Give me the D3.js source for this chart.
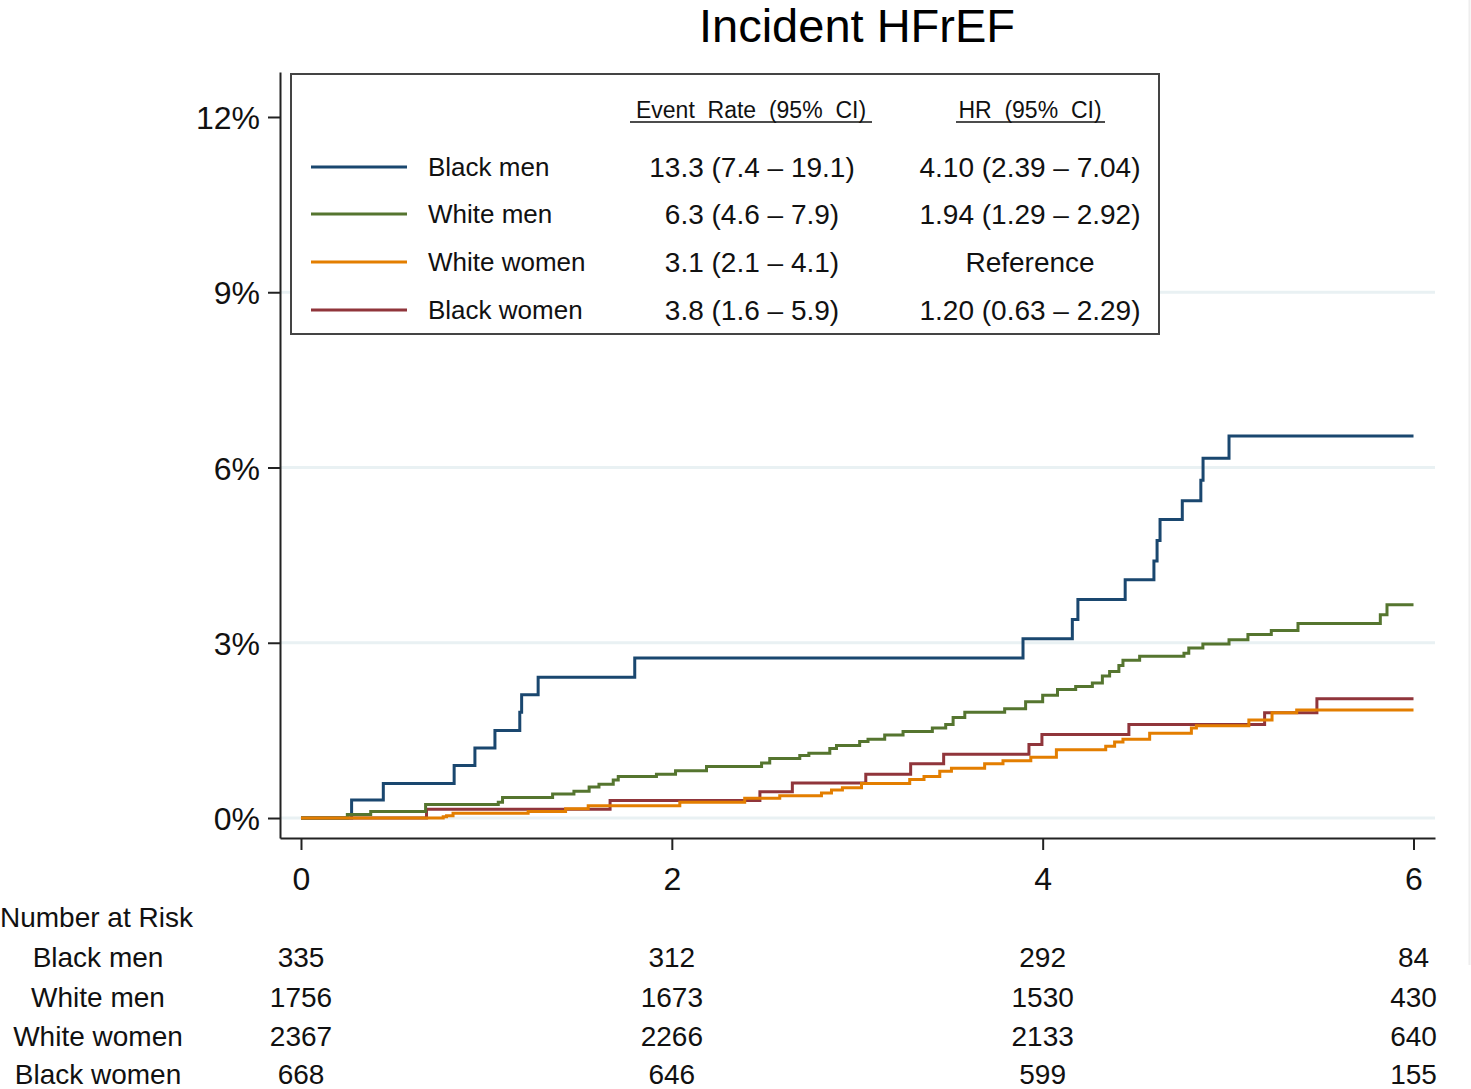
<!DOCTYPE html>
<html>
<head>
<meta charset="utf-8">
<script src="https://cdn.jsdelivr.net/npm/d3@7"></script>
<style>
  html, body { margin: 0; padding: 0; background: #fff; }
  svg { display: block; font-family: "Liberation Sans", Arial, sans-serif; }
</style>
</head>
<body>
<svg id="chart" width="1471" height="1089"></svg>
<script>
// ---------- Data ----------
const seriesNames = ["Black men", "White men", "White women", "Black women"];

const bmTimes = [0, 0.273, 0.444, 0.826, 0.938, 1.046, 1.18, 1.19, 1.279, 1.80, 3.894, 4.16, 4.19, 4.445, 4.60, 4.617, 4.633, 4.753, 4.853, 4.865, 5.005, 6.0];
const bmValues = [0, 0.31, 0.59, 0.90, 1.20, 1.50, 1.81, 2.11, 2.41, 2.74, 3.07, 3.40, 3.74, 4.08, 4.40, 4.75, 5.11, 5.43, 5.78, 6.16, 6.54, 6.54];

const wmTimes = [0, 0.25, 0.376, 0.672, 1.064, 1.087, 1.357, 1.472, 1.554, 1.607, 1.684, 1.711, 1.917, 2.02, 2.187, 2.484, 2.528, 2.69, 2.739, 2.852, 2.888, 3.013, 3.058, 3.148, 3.247, 3.405, 3.477, 3.517, 3.58, 3.795, 3.908, 4.0, 4.08, 4.178, 4.268, 4.322, 4.361, 4.411, 4.433, 4.523, 4.762, 4.788, 4.864, 5.005, 5.107, 5.233, 5.377, 5.821, 5.857, 6];
const wmValues = [0, 0.06, 0.11, 0.23, 0.27, 0.35, 0.41, 0.46, 0.53, 0.58, 0.65, 0.71, 0.75, 0.81, 0.88, 0.94, 1.02, 1.07, 1.11, 1.19, 1.24, 1.31, 1.35, 1.42, 1.48, 1.54, 1.60, 1.72, 1.81, 1.87, 1.99, 2.10, 2.20, 2.25, 2.31, 2.43, 2.51, 2.61, 2.70, 2.77, 2.82, 2.91, 2.98, 3.05, 3.14, 3.21, 3.33, 3.48, 3.65, 3.65];

const wwTimes = [0, 0.767, 0.785, 0.82, 1.225, 1.427, 1.549, 2.043, 2.393, 2.582, 2.807, 2.861, 2.92, 3.023, 3.283, 3.36, 3.445, 3.508, 3.687, 3.786, 3.936, 4.074, 4.34, 4.388, 4.433, 4.577, 4.802, 4.829, 5.112, 5.237, 5.37, 6];
const wwValues = [0, 0.02, 0.04, 0.08, 0.11, 0.16, 0.21, 0.27, 0.34, 0.38, 0.43, 0.48, 0.52, 0.59, 0.66, 0.71, 0.80, 0.85, 0.93, 0.98, 1.04, 1.17, 1.23, 1.30, 1.35, 1.45, 1.54, 1.58, 1.68, 1.80, 1.85, 1.85];

const bwTimes = [0, 0.677, 1.667, 2.475, 2.65, 3.046, 3.288, 3.466, 3.926, 3.996, 4.465, 5.197, 5.479, 6];
const bwValues = [0, 0.15, 0.30, 0.45, 0.60, 0.75, 0.93, 1.09, 1.26, 1.43, 1.60, 1.80, 2.04, 2.04];

const eventRates = ["13.3 (7.4 \u2013 19.1)", "6.3 (4.6 \u2013 7.9)", "3.1 (2.1 \u2013 4.1)", "3.8 (1.6 \u2013 5.9)"];
const hazardRatios = ["4.10 (2.39 \u2013 7.04)", "1.94 (1.29 \u2013 2.92)", "Reference", "1.20 (0.63 \u2013 2.29)"];

const xTicks = [0, 2, 4, 6];
const yTicks = [0, 3, 6, 9, 12];
const yGrid = [0, 3, 6, 9];

const riskBM = [335, 312, 292, 84];
const riskWM = [1756, 1673, 1530, 430];
const riskWW = [2367, 2266, 2133, 640];
const riskBW = [668, 646, 599, 155];

// ---------- Styles ----------
const colors = {"Black men": "#1a476f", "White men": "#55752f", "White women": "#e37e00", "Black women": "#90353b"};

const svg = d3.select("#chart");

const x = d3.scaleLinear().domain([-0.1132, 6.1159]).range([280, 1435]);
const y = d3.scaleLinear().domain([-0.342, 12.77]).range([838, 72]);

// faint right border
svg.append("line").attr("x1", 1469.5).attr("x2", 1469.5).attr("y1", 0).attr("y2", 965)
  .attr("stroke", "#eeeeee").attr("stroke-width", 2);

// gridlines
svg.append("g").selectAll("line").data(yGrid).join("line")
  .attr("x1", 280).attr("x2", 1435)
  .attr("y1", d => y(d)).attr("y2", d => y(d))
  .attr("stroke", "#e9f1f3").attr("stroke-width", 3);

// Title
svg.append("text").attr("x", 857).attr("y", 42).attr("text-anchor", "middle")
  .attr("font-size", 47).attr("fill", "#000").text("Incident HFrEF");

// Axes
const yAxis = d3.axisLeft(y).tickValues(yTicks).tickFormat(d => d + "%").tickSize(12).tickSizeOuter(0).tickPadding(8);
const gy = svg.append("g").attr("transform", "translate(280,0)").call(yAxis);
gy.select(".domain").attr("stroke", "#222").attr("stroke-width", 2);
gy.selectAll(".tick line").attr("stroke", "#222").attr("stroke-width", 2);
gy.selectAll(".tick text").attr("font-size", 32).attr("fill", "#111")
  .attr("font-family", "'Liberation Sans', Arial, sans-serif").attr("dy", "0.36em");

const xAxis = d3.axisBottom(x).tickValues(xTicks).tickFormat(d3.format("d")).tickSize(12).tickSizeOuter(0).tickPadding(17);
const gx = svg.append("g").attr("transform", "translate(0,838)").call(xAxis);
gx.select(".domain").attr("stroke", "#222").attr("stroke-width", 2);
gx.selectAll(".tick line").attr("stroke", "#222").attr("stroke-width", 2);
gx.selectAll(".tick text").attr("font-size", 32).attr("fill", "#111")
  .attr("font-family", "'Liberation Sans', Arial, sans-serif");

// Curves
const line = d3.line().x(d => x(d[0])).y(d => y(d[1])).curve(d3.curveStepAfter);
const series = [
  {name: "Black men", t: bmTimes, v: bmValues},
  {name: "Black women", t: bwTimes, v: bwValues},
  {name: "White men", t: wmTimes, v: wmValues},
  {name: "White women", t: wwTimes, v: wwValues}
];
svg.append("g").selectAll("path").data(series).join("path")
  .attr("d", s => line(s.t.map((t, i) => [t, s.v[i]])))
  .attr("fill", "none")
  .attr("stroke", s => colors[s.name])
  .attr("stroke-width", 3)
  .attr("stroke-linejoin", "miter");

// Legend box
const lg = svg.append("g");
lg.append("rect").attr("x", 291).attr("y", 74).attr("width", 868).attr("height", 260)
  .attr("fill", "#fff").attr("stroke", "#444").attr("stroke-width", 2);

lg.append("text").attr("x", 751).attr("y", 118).attr("text-anchor", "middle")
  .attr("font-size", 23).attr("fill", "#111").style("white-space", "pre")
  .text("Event  Rate  (95%  CI)");
lg.append("line").attr("x1", 630).attr("x2", 872).attr("y1", 122).attr("y2", 122)
  .attr("stroke", "#111").attr("stroke-width", 1.5);
lg.append("text").attr("x", 1030).attr("y", 118).attr("text-anchor", "middle")
  .attr("font-size", 23).attr("fill", "#111").style("white-space", "pre")
  .text("HR  (95%  CI)");
lg.append("line").attr("x1", 956).attr("x2", 1105).attr("y1", 122).attr("y2", 122)
  .attr("stroke", "#111").attr("stroke-width", 1.5);

const rowY = [167, 214, 262, 310];
seriesNames.forEach((name, i) => {
  lg.append("line").attr("x1", 311).attr("x2", 407).attr("y1", rowY[i]).attr("y2", rowY[i])
    .attr("stroke", colors[name]).attr("stroke-width", 3);
  lg.append("text").attr("x", 428).attr("y", rowY[i] + 9).attr("font-size", 26).attr("fill", "#111").text(name);
  lg.append("text").attr("x", 752).attr("y", rowY[i] + 10).attr("text-anchor", "middle")
    .attr("font-size", 28).attr("fill", "#111").text(eventRates[i]);
  lg.append("text").attr("x", 1030).attr("y", rowY[i] + 10).attr("text-anchor", "middle")
    .attr("font-size", 28).attr("fill", "#111").text(hazardRatios[i]);
});

// Number at risk
svg.append("text").attr("x", 0).attr("y", 927).attr("font-size", 28).attr("fill", "#111").text("Number at Risk");
const riskRows = [riskBM, riskWM, riskWW, riskBW];
const riskY = [967, 1007, 1046, 1084];
riskRows.forEach((row, i) => {
  svg.append("text").attr("x", 98).attr("y", riskY[i]).attr("text-anchor", "middle")
    .attr("font-size", 28).attr("fill", "#111").text(seriesNames[i]);
  svg.append("g").selectAll("text").data(row).join("text")
    .attr("x", (d, j) => x(xTicks[j])).attr("y", riskY[i]).attr("text-anchor", "middle")
    .attr("font-size", 28).attr("fill", "#111").text(d => d);
});
</script>
</body>
</html>
